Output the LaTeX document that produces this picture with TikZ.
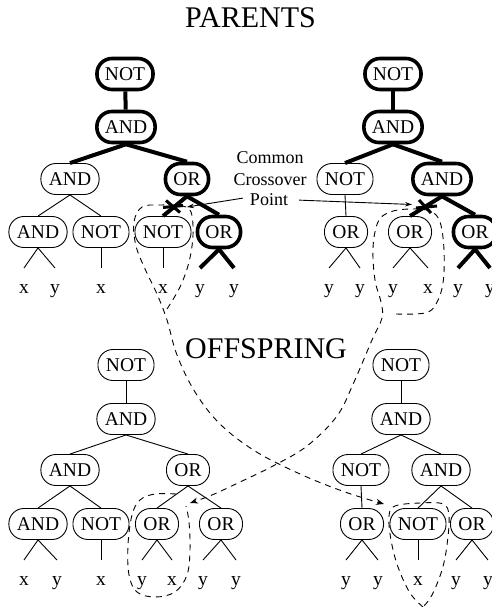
\documentclass[tikz,border=0pt]{standalone}
\usepackage{fontspec}
\setmainfont{Liberation Serif}
\usetikzlibrary{arrows.meta}
\newcommand\nodefont{\fontsize{19.5}{22}\selectfont}
\newcommand\titlefont{\fontsize{30}{34}\selectfont}
\newcommand\notefont{\fontsize{18}{21}\selectfont}
\tikzset{
  op/.style={draw, rounded corners=15pt, minimum height=31pt, inner xsep=8pt, inner ysep=0pt, font=\nodefont, line width=0.9pt},
  hl/.style={line width=3.6pt},
  leaf/.style={anchor=north, inner sep=0pt, text height=25pt, text depth=0pt, font=\nodefont},
  edge/.style={line width=0.9pt},
  thk/.style={line width=4pt},
  loopd/.style={line width=0.9pt, dash pattern=on 6pt off 5pt},
  tip/.style={-{Stealth[length=8pt,width=6pt]}},
  cutmark/.style={line width=3pt},
  note/.style={font=\notefont, anchor=base, inner sep=0pt},
  ttl/.style={font=\titlefont, anchor=base west, inner sep=0pt}
}
\begin{document}
\begin{tikzpicture}[x=1pt,y=-1pt]
\useasboundingbox (0,0) rectangle (492,607);
\fill[white] (0,0) rectangle (492,607);

% titles
\node[ttl] (tpar) at (185,28) {PARENTS};
\node[ttl] (toff) at (185,358) {OFFSPRING};

% ---------- Parent 1 ----------
\node[op,hl] (p1root) at (125,74) {NOT};
\node[op,hl] (p1and) at (126,127) {AND};
\node[op] (p1L) at (70,179) {AND};
\node[op,hl] (p1R) at (187,179) {OR};
\node[op] (p1LL) at (38,232) {AND};
\node[op] (p1LR) at (101,232) {NOT};
\node[op] (p1RL) at (163,232) {NOT};
\node[op,hl] (p1RR) at (219,232) {OR};
\node[leaf] (p1a) at (24,268) {x};
\node[leaf] (p1b) at (55,268) {y};
\node[leaf] (p1c) at (101,268) {x};
\node[leaf] (p1d) at (163,268) {x};
\node[leaf] (p1e) at (200,268) {y};
\node[leaf] (p1f) at (234,268) {y};
\draw[thk] (p1root) -- (p1and);
\draw[thk] (p1and.south) -- (p1L.north);
\draw[thk] (p1and.south) -- (p1R.north);
\draw[edge] (p1L.south) -- (p1LL.north);
\draw[edge] (p1L.south) -- (p1LR.north);
\draw[thk] (p1R.south) -- (p1RL.north);
\draw[thk] (p1R.south) -- (p1RR.north);
\draw[edge] (p1LL.south) -- (p1a.north);
\draw[edge] (p1LL.south) -- (p1b.north);
\draw[edge] (p1LR.south) -- (p1c.north);
\draw[edge] (p1RL.south) -- (p1d.north);
\draw[thk] (p1RR.south) -- (p1e.north);
\draw[thk] (p1RR.south) -- (p1f.north);
\coordinate (cut1) at (173,206.5);
\draw[cutmark] ([shift={(-10,1)}]cut1) -- ([shift={(10,-1)}]cut1);
\draw[cutmark] ([shift={(-7,-6)}]cut1) -- ([shift={(7,6)}]cut1);

% ---------- Parent 2 ----------
\node[op,hl] (p2root) at (393,74) {NOT};
\node[op,hl] (p2and) at (393,127) {AND};
\node[op] (p2L) at (345,179) {NOT};
\node[op,hl] (p2R) at (442,179) {AND};
\node[op] (p2LL) at (346,232) {OR};
\node[op] (p2RL) at (410,232) {OR};
\node[op,hl] (p2RR) at (475,232) {OR};
\node[leaf] (p2a) at (329,268) {y};
\node[leaf] (p2b) at (360,268) {y};
\node[leaf] (p2c) at (393,268) {y};
\node[leaf] (p2d) at (428,268) {x};
\node[leaf] (p2e) at (458,268) {y};
\node[leaf] (p2f) at (490,268) {y};
\draw[thk] (p2root) -- (p2and);
\draw[thk] (p2and.south) -- (p2L.north);
\draw[thk] (p2and.south) -- (p2R.north);
\draw[edge] (p2L.south) -- (p2LL.north);
\draw[thk] (p2R.south) -- (p2RL.north);
\draw[thk] (p2R.south) -- (p2RR.north);
\draw[edge] (p2LL.south) -- (p2a.north);
\draw[edge] (p2LL.south) -- (p2b.north);
\draw[edge] (p2RL.south) -- (p2c.north);
\draw[edge] (p2RL.south) -- (p2d.north);
\draw[thk] (p2RR.south) -- (p2e.north);
\draw[thk] (p2RR.south) -- (p2f.north);
\coordinate (cut2) at (425,207);
\draw[cutmark] ([shift={(-9,1)}]cut2) -- ([shift={(12,-1)}]cut2);
\draw[cutmark] ([shift={(-6,-7)}]cut2) -- ([shift={(6,6)}]cut2);

% ---------- Common crossover point label ----------
\node[note] (c1) at (270,163) {Common};
\node[note] (c2) at (270,185) {Crossover};
\node[note] (c3) at (269,205) {Point};
\coordinate (tip1) at (187,207);
\coordinate (tip2) at (412,204.5);
\draw[edge, -{Stealth[length=7pt,width=4.5pt]}] ([xshift=-7pt,yshift=1pt]c3.west) -- (tip1);
\draw[edge, -{Stealth[length=7pt,width=4.5pt]}] ([xshift=11pt,yshift=-1pt]c3.east) -- (tip2);

% ---------- Offspring 1 ----------
\node[op] (o1root) at (126,365) {NOT};
\node[op] (o1and) at (126,419) {AND};
\node[op] (o1L) at (70,470) {AND};
\node[op] (o1R) at (188,470) {OR};
\node[op] (o1LL) at (38,524) {AND};
\node[op] (o1LR) at (101,524) {NOT};
\node[op] (o1RL) at (157,524) {OR};
\node[op] (o1RR) at (221,524) {OR};
\node[leaf] (o1a) at (24,560) {x};
\node[leaf] (o1b) at (57,560) {y};
\node[leaf] (o1c) at (101,560) {x};
\node[leaf] (o1d) at (142,560) {y};
\node[leaf] (o1e) at (172,560) {x};
\node[leaf] (o1f) at (203,560) {y};
\node[leaf] (o1g) at (236,560) {y};
\draw[edge] (o1root) -- (o1and);
\draw[edge] (o1and.south) -- (o1L.north);
\draw[edge] (o1and.south) -- (o1R.north);
\draw[edge] (o1L.south) -- (o1LL.north);
\draw[edge] (o1L.south) -- (o1LR.north);
\draw[edge] (o1R.south) -- (o1RL.north);
\draw[edge] (o1R.south) -- (o1RR.north);
\draw[edge] (o1LL.south) -- (o1a.north);
\draw[edge] (o1LL.south) -- (o1b.north);
\draw[edge] (o1LR.south) -- (o1c.north);
\draw[edge] (o1RL.south) -- (o1d.north);
\draw[edge] (o1RL.south) -- (o1e.north);
\draw[edge] (o1RR.south) -- (o1f.north);
\draw[edge] (o1RR.south) -- (o1g.north);

% ---------- Offspring 2 ----------
\node[op] (o2root) at (401,365) {NOT};
\node[op] (o2and) at (401,419) {AND};
\node[op] (o2L) at (361,470) {NOT};
\node[op] (o2R) at (441,470) {AND};
\node[op] (o2LL) at (362,524) {OR};
\node[op] (o2RL) at (418,524) {NOT};
\node[op] (o2RR) at (472,524) {OR};
\node[leaf] (o2a) at (346,560) {y};
\node[leaf] (o2b) at (378,560) {y};
\node[leaf] (o2c) at (418,560) {x};
\node[leaf] (o2d) at (456,560) {y};
\node[leaf] (o2e) at (488,560) {y};
\draw[edge] (o2root) -- (o2and);
\draw[edge] (o2and.south) -- (o2L.north);
\draw[edge] (o2and.south) -- (o2R.north);
\draw[edge] (o2L.south) -- (o2LL.north);
\draw[edge] (o2R.south) -- (o2RL.north);
\draw[edge] (o2R.south) -- (o2RR.north);
\draw[edge] (o2LL.south) -- (o2a.north);
\draw[edge] (o2LL.south) -- (o2b.north);
\draw[edge] (o2RL.south) -- (o2c.north);
\draw[edge] (o2RR.south) -- (o2d.north);
\draw[edge] (o2RR.south) -- (o2e.north);

% ---------- dashed loops and transfers ----------
% parent 1 subtree -> offspring 2
\draw[loopd, tip] plot[smooth, tension=0.6] coordinates {
  (167,309) (180,287) (189,262) (193,235) (191,212) (182,206) (160,205) (142,207)
  (134,222) (136,246) (146,271) (157,294) (167,320) (177,355) (195,392) (220,424)
  (255,451) (300,474) (345,492) (384,504)};
% parent 2 subtree -> offspring 1
\draw[loopd, tip] plot[smooth, tension=0.6] coordinates {
  (396,314) (425,313) (436,304) (443,283) (444,250) (440,222) (430,211) (410,209)
  (390,212) (378,222) (373,248) (375,280) (381,302) (382,318) (372,340) (354,382)
  (337,416) (307,446) (273,466) (240,482) (212,495) (190,503)};
% offspring 1 received subtree
\draw[loopd] plot[smooth, tension=0.6] coordinates {
  (176,494) (155,494) (140,500) (132,515) (128,545) (129,575) (137,592) (155,597)
  (175,592) (187,575) (190,550) (189,522) (186,506)};
% offspring 2 received subtree
\draw[loopd] plot[smooth, tension=0.6] coordinates {
  (423,607) (410,593) (398,567) (391,540) (389,516) (395,506) (420,503) (443,504)
  (449,516) (447,545) (442,570) (432,595) (423,607)};
\end{tikzpicture}
\end{document}
